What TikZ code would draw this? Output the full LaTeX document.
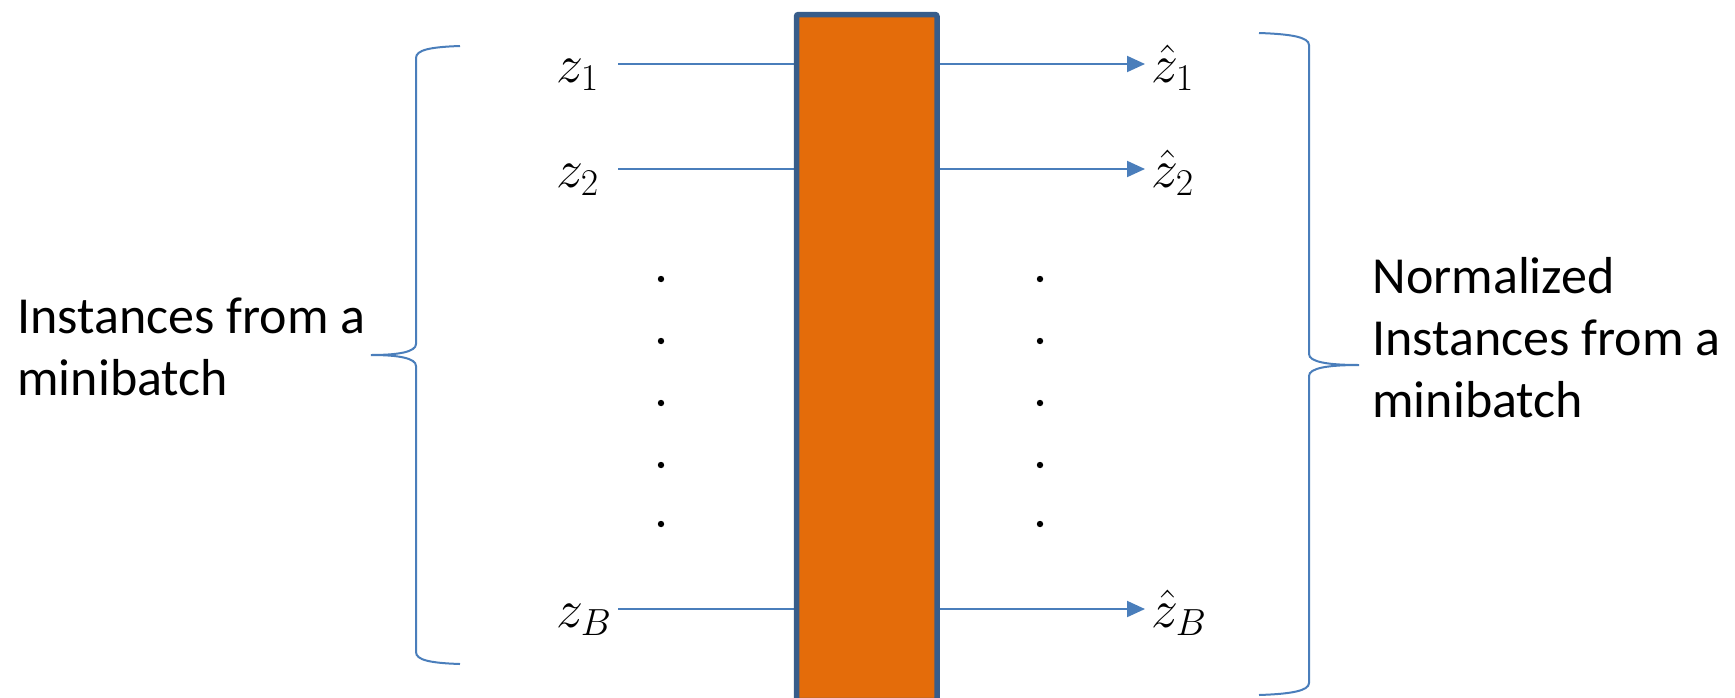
\RequirePackage{fix-cm}
\documentclass[tikz,border=0pt]{standalone}
\usepackage{fontspec}
\setmainfont{Carlito}
\usetikzlibrary{arrows.meta}
\definecolor{lineblue}{RGB}{74,126,187}
\definecolor{boxedge}{RGB}{56,93,138}
\definecolor{boxfill}{RGB}{228,108,10}
\begin{document}
\begin{tikzpicture}[x=0.5pt,y=-0.5pt,
 conn/.style={draw=lineblue,line width=1pt},
 arr/.style={conn,-{Triangle[length=9pt,width=8pt]}},
 brace/.style={draw=lineblue,line width=1pt},
 lbl/.style={inner sep=0pt,anchor=base west,font=\fontsize{27}{30}\selectfont},
 txt/.style={inner sep=0pt,anchor=base west,font=\fontsize{26}{31}\selectfont},
 dotm/.style={circle,fill=black,inner sep=0pt,minimum size=3.2pt},
 bar/.style={draw=boxedge,fill=boxfill,line width=2.75pt,rounded corners=1pt,inner sep=0pt,minimum width=70.25pt,minimum height=343pt,anchor=north west}]
\useasboundingbox (0,0) rectangle (1735,697);
% start points of the input lines and tips of output arrows
\coordinate (l1) at (618,64);
\coordinate (l2) at (618,169);
\coordinate (lB) at (618,609);
\coordinate (r1) at (1145,64);
\coordinate (r2) at (1145,169);
\coordinate (rB) at (1145,609);
% input lines (under the bar)
\draw[conn] (l1) -- (864,64);
\draw[conn] (l2) -- (864,169);
\draw[conn] (lB) -- (864,609);
% bar
\node[bar] (box) at (793.75,11.75) {};
% output arrows
\draw[arr] (box.east |- r1) -- (r1);
\draw[arr] (box.east |- r2) -- (r2);
\draw[arr] (box.east |- rB) -- (rB);
% labels
\node[lbl] (z1) at (556,82) {$z_1$};
\node[lbl] (z2) at (556,187) {$z_2$};
\node[lbl] (zB) at (556,627) {$z_B$};
\node[lbl] (h1) at (1151,82) {$\hat{z}_1$};
\node[lbl] (h2) at (1151,187) {$\hat{z}_2$};
\node[lbl] (hB) at (1151,627) {$\hat{z}_B$};
% dots
\foreach \i/\y in {1/279,2/341,3/403,4/465,5/524}{
  \node[dotm] (dl\i) at (661,\y) {};
  \node[dotm] (dr\i) at (1040,\y) {};
}
% braces
\draw[brace] (460,46) .. controls (430,47) and (416,50) .. (416,58) -- (416,344)
  .. controls (416,352) and (398,355) .. (371,355)
  .. controls (398,355) and (416,358) .. (416,366) -- (416,652)
  .. controls (416,660) and (430,663) .. (460,664);
\draw[brace] (1259,33) .. controls (1290,34) and (1309,37) .. (1309,45) -- (1309,354)
  .. controls (1309,362) and (1328,365) .. (1359,365)
  .. controls (1328,365) and (1309,368) .. (1309,376) -- (1309,683)
  .. controls (1309,691) and (1290,694) .. (1259,695);
% texts
\node[txt] (tl1) at (17,333) {Instances from a};
\node[txt] (tl2) at (17,395) {minibatch};
\node[txt] (tr1) at (1372,293) {Normalized};
\node[txt] (tr2) at (1372,355) {Instances from a};
\node[txt] (tr3) at (1372,417) {minibatch};
\end{tikzpicture}
\end{document}
